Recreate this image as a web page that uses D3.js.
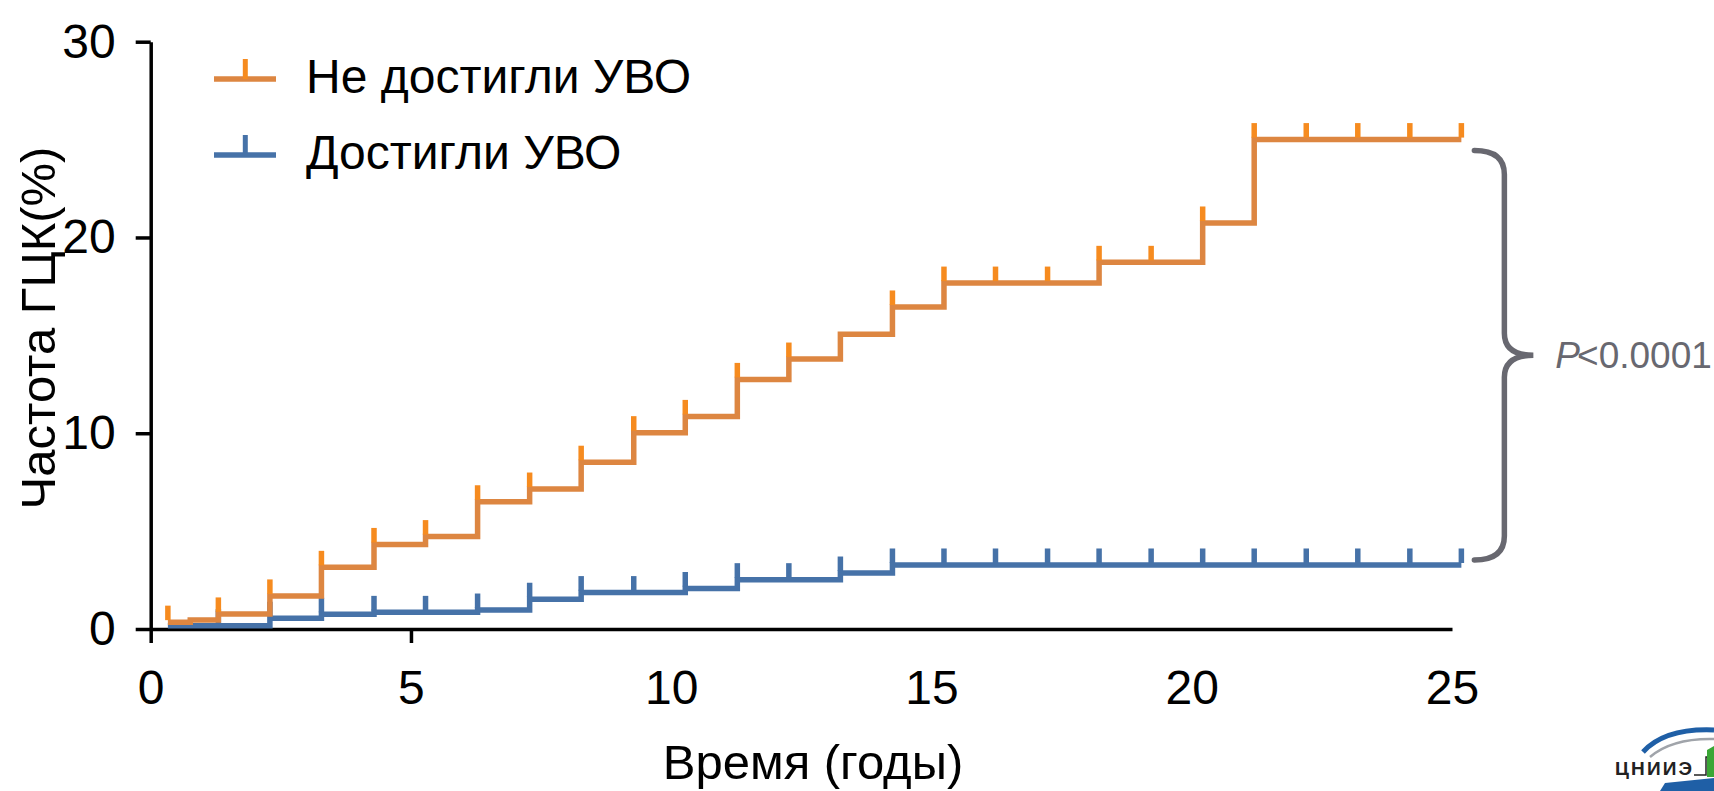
<!DOCTYPE html>
<html>
<head>
<meta charset="utf-8">
<script src="https://cdn.jsdelivr.net/npm/d3@7"></script>
<style>
  html, body { margin: 0; padding: 0; background: #fff; }
  text { font-family: "Liberation Sans", Arial, sans-serif; }
</style>
</head>
<body>
<svg id="chart" width="1714" height="791"></svg>
<script>
// ---- data ----
const seriesNames = ['Не достигли УВО', 'Достигли УВО'];

// step times (years) and cumulative incidence (%) after each step
const notReachedTimes  = [0.33, 0.76, 1.30, 2.29, 3.28, 4.29, 5.28, 6.28, 7.28, 8.27, 9.28, 10.27, 11.27, 12.26, 13.25, 14.25, 15.24, 18.22, 20.21, 21.20, 25.18];
const notReachedValues = [0.35, 0.46, 0.77, 1.69, 3.15, 4.32, 4.72, 6.50, 7.15, 8.52, 10.03, 10.86, 12.75, 13.79, 15.05, 16.45, 17.67, 18.73, 20.74, 25.00, 25.00];
const notReachedCensor = [0.33, 1.30, 2.29, 3.28, 4.29, 5.28, 6.28, 7.28, 8.27, 9.28, 10.27, 11.27, 12.26, 14.25, 15.24, 16.23, 17.23, 18.22, 19.22, 20.21, 21.20, 22.20, 23.19, 24.19, 25.18];

const reachedTimes  = [0.33, 2.29, 3.28, 4.29, 6.28, 7.28, 8.27, 10.27, 11.27, 13.25, 14.25, 25.18];
const reachedValues = [0.17, 0.55, 0.75, 0.85, 0.97, 1.52, 1.86, 2.07, 2.52, 2.86, 3.27, 3.27];
const reachedCensor = [1.30, 2.29, 3.28, 4.29, 5.28, 6.28, 7.28, 8.27, 9.28, 10.27, 11.27, 12.26, 13.25, 14.25, 15.24, 16.23, 17.23, 18.22, 19.22, 20.21, 21.20, 22.20, 23.19, 24.19, 25.18];

const xTicks = [0, 5, 10, 15, 20, 25];
const xTicksWithMark = [0, 5];
const yTicks = [0, 10, 20, 30];
const pLabel = '<0.0001';

// ---- layout ----
const svg = d3.select('#chart');
const xScale = d3.scaleLinear().domain([0, 25]).range([150.7, 1452]);
const yScale = d3.scaleLinear().domain([0, 30]).range([629, 41.7]);

const colors = {
    orange: '#dd8641', orangeTick: '#f68b1f',
    blue: '#4672a8', blueTick: '#4672a8',
    grey: '#686870'
};
const fontSize = 48;
const titleSize = 49;

// axes
const xAxis = d3.axisBottom(xScale)
    .tickValues(xTicks)
    .tickSizeInner(14)
    .tickSizeOuter(0)
    .tickPadding(27)
    .tickFormat(d3.format('d'));
const yAxis = d3.axisLeft(yScale)
    .tickValues(yTicks)
    .tickSizeInner(15)
    .tickSizeOuter(0)
    .tickPadding(20)
    .tickFormat(d3.format('d'));

const gx = svg.append('g')
    .attr('transform', `translate(0, ${yScale(0)})`)
    .call(xAxis);
gx.selectAll('.tick line')
    .attr('stroke-opacity', d => xTicksWithMark.includes(d) ? 1 : 0);

const gy = svg.append('g')
    .attr('transform', `translate(${xScale(0)}, 0)`)
    .call(yAxis);

svg.selectAll('.domain, .tick line')
    .attr('stroke', '#000')
    .attr('stroke-width', 3.5);
svg.selectAll('.tick text')
    .attr('font-size', fontSize)
    .attr('font-family', '"Liberation Sans", Arial, sans-serif')
    .attr('fill', '#000');

// step lines
const line = d3.line()
    .x(d => xScale(d.t))
    .y(d => yScale(d.v))
    .curve(d3.curveStepAfter);

function zip(ts, vs) { return ts.map((t, i) => ({ t: t, v: vs[i] })); }

function valueAt(ts, vs, t) {
    let i = d3.bisectRight(ts, t + 1e-6) - 1;
    return vs[Math.max(0, i)];
}

function drawSeries(ts, vs, censor, lineColor, tickColor) {
    const g = svg.append('g');
    g.append('path')
        .datum(zip(ts, vs))
        .attr('d', line)
        .attr('fill', 'none')
        .attr('stroke', lineColor)
        .attr('stroke-width', 5.5)
        .attr('stroke-linejoin', 'miter');
    g.selectAll('line.censor')
        .data(censor)
        .join('line')
        .attr('class', 'censor')
        .attr('x1', d => xScale(d))
        .attr('x2', d => xScale(d))
        .attr('y1', d => yScale(valueAt(ts, vs, d)) - 2)
        .attr('y2', d => yScale(valueAt(ts, vs, d)) - 16.5)
        .attr('stroke', tickColor)
        .attr('stroke-width', 5.5);
}

drawSeries(reachedTimes, reachedValues, reachedCensor, colors.blue, colors.blueTick);
drawSeries(notReachedTimes, notReachedValues, notReachedCensor, colors.orange, colors.orangeTick);

// axis titles
svg.append('text')
    .attr('x', 813).attr('y', 779)
    .attr('text-anchor', 'middle')
    .attr('font-size', titleSize)
    .text('Время (годы)');

svg.append('text')
    .attr('transform', 'translate(55, 328) rotate(-90)')
    .attr('text-anchor', 'middle')
    .attr('font-size', titleSize)
    .text('Частота ГЦК(%)');

// legend
const legend = svg.append('g');
const legendItems = [
    { name: seriesNames[0], color: colors.orange, tick: colors.orangeTick, y: 79 },
    { name: seriesNames[1], color: colors.blue, tick: colors.blueTick, y: 155 }
];
legendItems.forEach(item => {
    legend.append('line')
        .attr('x1', 214).attr('x2', 276)
        .attr('y1', item.y).attr('y2', item.y)
        .attr('stroke', item.color).attr('stroke-width', 5.5);
    legend.append('line')
        .attr('x1', 245.3).attr('x2', 245.3)
        .attr('y1', item.y).attr('y2', item.y - 20)
        .attr('stroke', item.tick).attr('stroke-width', 5);
    legend.append('text')
        .attr('x', 306).attr('y', item.y + 14)
        .attr('font-size', fontSize)
        .text(item.name);
});

// bracket with p-value
const bTop = yScale(25) + 11, bBottom = yScale(3.27) - 5;
const xa = xScale(25.18) + 13, xb = xa + 30, xc = xa + 59, mid = (bTop + bBottom) / 2;
const bracket = d3.path();
bracket.moveTo(xa, bTop);
bracket.quadraticCurveTo(xb, bTop, xb, bTop + 24);
bracket.lineTo(xb, mid - 22);
bracket.quadraticCurveTo(xb, mid, xc, mid);
bracket.quadraticCurveTo(xb, mid, xb, mid + 22);
bracket.lineTo(xb, bBottom - 24);
bracket.quadraticCurveTo(xb, bBottom, xa, bBottom);
svg.append('path')
    .attr('d', bracket.toString())
    .attr('fill', 'none')
    .attr('stroke', colors.grey)
    .attr('stroke-width', 5.5)
    .attr('stroke-linecap', 'round');

const pText = svg.append('text')
    .attr('x', xc + 22).attr('y', mid + 13)
    .attr('font-size', 37)
    .attr('fill', colors.grey);
pText.append('tspan').attr('font-style', 'italic').text('P');
pText.append('tspan').attr('dx', -3).text(pLabel);

// corner logo (partial)
const logo = svg.append('g');
logo.append('path')
    .attr('d', 'M1643,752 Q1665,728 1714,730')
    .attr('fill', 'none').attr('stroke', '#1f5fa6').attr('stroke-width', 5);
logo.append('path')
    .attr('d', 'M1650,757 Q1672,738 1714,739')
    .attr('fill', 'none').attr('stroke', '#a0a4aa').attr('stroke-width', 2.5);
logo.append('text')
    .attr('x', 1615).attr('y', 775)
    .attr('font-size', 19).attr('font-weight', 'bold')
    .attr('fill', '#222')
    .attr('textLength', 77)
    .text('ЦНИИЭ');
logo.append('path')
    .attr('d', 'M1694,775 L1706,775 L1706,757 L1714,757')
    .attr('fill', 'none').attr('stroke', '#222').attr('stroke-width', 1.5);
logo.append('path')
    .attr('d', 'M1707,777 L1707,750 L1714,746 L1714,777 Z')
    .attr('fill', '#3aa635');
logo.append('path')
    .attr('d', 'M1660,791 L1665,783 L1714,778 L1714,791 Z')
    .attr('fill', '#1f5fa6');
</script>
</body>
</html>
